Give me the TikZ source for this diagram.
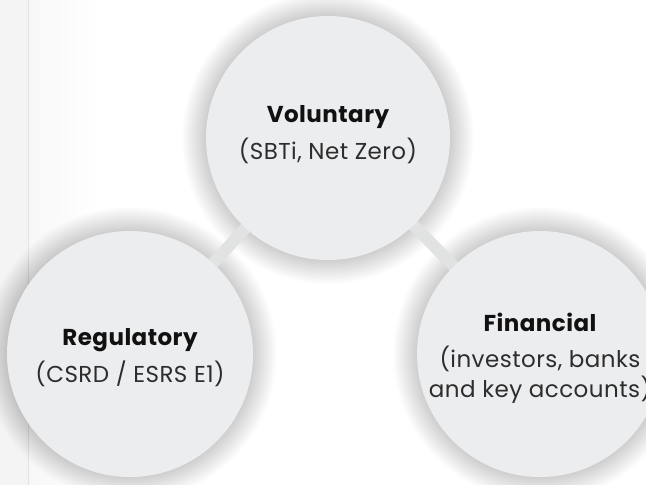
\documentclass[tikz,border=0pt]{standalone}
\usepackage{fontspec}
\setmainfont{Poppins}[LetterSpace=2]
\pgfdeclarelayer{bg}
\pgfdeclarelayer{shade}
\pgfdeclarelayer{links}
\pgfsetlayers{bg,shade,links,main}
\definecolor{circfill}{RGB}{236,237,239}
\definecolor{stripfill}{RGB}{244,244,244}
\definecolor{stripline}{RGB}{226,227,227}
\definecolor{linkgray}{RGB}{225,227,227}
\definecolor{titleink}{RGB}{17,17,17}
\definecolor{subink}{RGB}{45,45,45}
\newcommand{\hubhead}[1]{{\fontsize{23}{30}\selectfont\bfseries\color{titleink}#1}}
\tikzset{
  hub/.style={circle, fill=circfill, minimum size=#1, inner sep=0pt},
  hubtext/.style={align=center, text=subink, inner sep=0pt,
    font=\fontsize{23}{30}\selectfont},
  link/.style={draw=linkgray, line width=12pt},
  haze/.style={fill=black, opacity=0.006}
}
\begin{document}
\begin{tikzpicture}[x=1pt,y=-1pt]
  \useasboundingbox (0,0) rectangle (646,485);
  % page background with the side strip
  \begin{pgfonlayer}{bg}
    \fill[white] (0,0) rectangle (646,485);
    \fill[stripfill] (0,0) rectangle (28,485);
    \shade[left color=black!3, right color=white] (29,0) rectangle (100,485);
    \draw[stripline, line width=1.5pt] (28.5,0) -- (28.5,485);
  \end{pgfonlayer}

  % the three circles
  \node[hub=244pt] (vol) at (328,138) {};
  \node[hub=246pt] (reg) at (130,354) {};
  \node[hub=246pt] (fin) at (540,354) {};

  % their labels
  \node[hubtext] (vol-text) at ([yshift=3pt]vol.center)
    {\hubhead{Voluntary}\\[7pt](SBTi, Net Zero)};
  \node[hubtext] (reg-text) at ([yshift=-4pt]reg.center)
    {\hubhead{Regulatory}\\[7pt](CSRD / ESRS E1)};
  \node[hubtext] (fin-text) at ([yshift=-4pt]fin.center)
    {\hubhead{Financial}\\[6pt](investors, banks\\and key accounts)};

  % soft shadows around the circles
  \begin{pgfonlayer}{shade}
    \foreach \c/\r in {vol/122, reg/123, fin/123}{
      \foreach \i in {1,...,24}{
        \fill[haze, shift={(0,3)}] (\c.center) circle[radius=\r pt+\i pt];
      }
    }
  \end{pgfonlayer}

  % connectors
  \begin{pgfonlayer}{links}
    \draw[link] (reg.center) -- (vol.center);
    \draw[link] (vol.center) -- (fin.center);
  \end{pgfonlayer}
\end{tikzpicture}
\end{document}
